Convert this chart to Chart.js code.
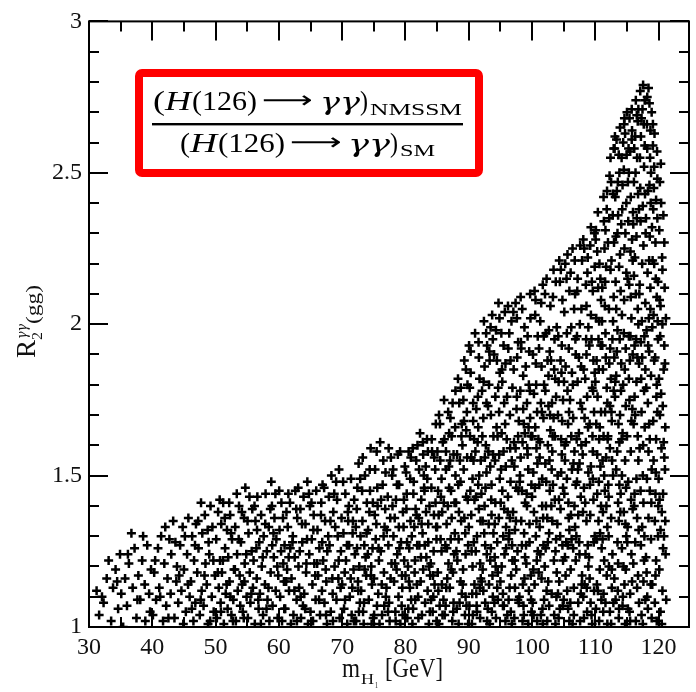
<!DOCTYPE html>
<html><head><meta charset="utf-8">
<style>html,body{margin:0;padding:0;background:#fff}#wrap{width:696px;height:692px}</style>
<script src="https://cdn.jsdelivr.net/npm/chart.js@4.4.1/dist/chart.umd.min.js"></script>
</head><body><div id="wrap"><canvas id="c" width="696" height="692"></canvas></div>
<script>
// tick values
const xTicks=[30,40,50,60,70,80,90,100,110,120];
const xMinorTicks=[35,45,55,65,75,85,95,105,115];
const yTicks=[1,1.5,2,2.5,3];
const yMinorTicks=[1.1,1.2,1.3,1.4,1.6,1.7,1.8,1.9,2.1,2.2,2.3,2.4,2.6,2.7,2.8,2.9];

// scan points: flat [mH1, R, mH1, R, ...]
const band30=[31.2,1.12,31.6,1.04,32.3,1.08,32.8,1.16,33.1,1.22,33.5,1.02,33.8,1.13,34.2,1.19,34.6,1.06,34.9,1.24,
35.1,1.11,35.4,1.00,35.7,1.16,36.0,1.07,36.3,1.21,36.7,1.31,36.9,1.13,37.2,1.26,37.5,1.03,37.8,1.17,
38.1,1.09,38.4,1.22,38.8,1.14,38.9,1.02,39.2,1.27,39.5,1.11,39.8,1.19,
32.05,1.10,34.45,1.15,36.15,1.24,37.65,1.09,38.55,1.30,39.65,1.05];
const band40=[40.1,1.04,40.3,1.18,40.6,1.09,40.9,1.26,41.1,1.13,41.4,1.30,41.7,1.02,41.9,1.21,
42.2,1.07,42.4,1.16,42.7,1.29,42.9,1.11,43.0,1.24,43.3,1.35,43.5,1.03,43.8,1.15,43.9,1.20,
44.1,1.08,44.4,1.27,44.6,1.12,44.8,1.33,44.9,1.01,45.0,1.19,45.3,1.05,45.5,1.24,45.7,1.36,45.9,1.10,
46.1,1.15,46.3,1.30,46.5,1.02,46.6,1.22,46.8,1.08,46.9,1.34,47.1,1.18,47.3,1.26,47.5,1.04,47.7,1.41,47.8,1.12,47.9,1.31,
48.1,1.07,48.3,1.37,48.4,1.21,48.6,1.14,48.8,1.01,48.9,1.28,49.0,1.24,49.2,1.40,49.4,1.10,49.5,1.33,49.7,1.05,49.9,1.17,
40.45,1.22,41.25,1.10,42.05,1.33,42.55,1.03,43.65,1.28,44.25,1.17,45.15,1.30,45.65,1.14,46.25,1.06,46.75,1.27,
47.25,1.35,47.65,1.09,48.25,1.17,48.75,1.32,49.15,1.02,49.65,1.22];
const band50=[50.1,1.29,50.2,1.03,50.4,1.38,50.5,1.13,50.7,1.22,50.8,1.08,50.9,1.34,
51.0,1.18,51.2,1.41,51.3,1.01,51.5,1.26,51.6,1.11,51.8,1.32,51.9,1.06,
52.0,1.23,52.2,1.15,52.3,1.37,52.5,1.04,52.6,1.29,52.8,1.09,52.9,1.19,
53.1,1.33,53.2,1.02,53.4,1.24,53.5,1.12,53.7,1.40,53.8,1.17,53.9,1.07,
54.0,1.28,54.2,1.14,54.3,1.05,54.5,1.36,54.6,1.21,54.7,1.46,54.9,1.10,
55.1,1.03,55.2,1.31,55.4,1.18,55.5,1.08,55.7,1.25,55.8,1.39,55.9,1.13,
56.0,1.22,56.2,1.01,56.3,1.35,56.5,1.16,56.6,1.43,56.8,1.06,56.9,1.28,
57.0,1.11,57.2,1.37,57.3,1.20,57.5,1.04,57.6,1.30,57.8,1.14,57.9,1.44,
58.1,1.25,58.2,1.09,58.4,1.33,58.5,1.02,58.7,1.18,58.8,1.48,58.9,1.40,
59.0,1.07,59.2,1.23,59.3,1.36,59.5,1.12,59.6,1.29,59.8,1.03,59.9,1.17,
50.35,1.18,50.65,1.42,50.85,1.05,51.45,1.36,51.15,1.22,51.75,1.14,52.45,1.31,52.75,1.02,52.15,1.41,52.35,1.10,
53.05,1.19,53.65,1.29,53.35,1.44,54.45,1.03,54.15,1.38,54.85,1.24,54.55,1.15,55.35,1.43,55.65,1.11,55.05,1.35,
56.45,1.26,56.75,1.09,56.15,1.40,56.55,1.32,57.45,1.23,57.15,1.01,57.85,1.34,58.35,1.13,58.65,1.39,58.05,1.06,58.95,1.27,
59.45,1.44,59.15,1.31,59.75,1.20];
const band60=[60.1,1.32,60.2,1.10,60.4,1.41,60.5,1.02,60.7,1.21,60.8,1.15,60.9,1.27,
61.0,1.06,61.2,1.38,61.3,1.19,61.5,1.44,61.6,1.12,61.8,1.26,61.9,1.01,61.4,1.33,
62.0,1.16,62.2,1.30,62.3,1.04,62.5,1.23,62.6,1.45,62.8,1.09,62.9,1.36,
63.1,1.20,63.2,1.13,63.4,1.39,63.5,1.03,63.7,1.28,63.8,1.07,63.9,1.43,63.3,1.25,
64.0,1.11,64.2,1.34,64.3,1.18,64.5,1.48,64.6,1.01,64.8,1.24,64.9,1.40,
65.0,1.05,65.2,1.29,65.3,1.14,65.5,1.37,65.6,1.21,65.8,1.09,65.9,1.45,65.4,1.02,
66.1,1.32,66.2,1.17,66.4,1.26,66.5,1.04,66.7,1.41,66.8,1.12,66.9,1.47,
67.0,1.22,67.2,1.08,67.3,1.35,67.5,1.15,67.6,1.01,67.8,1.30,67.9,1.43,67.4,1.19,
68.0,1.27,68.2,1.05,68.3,1.50,68.5,1.11,68.6,1.38,68.8,1.20,68.9,1.33,
69.1,1.09,69.2,1.42,69.4,1.16,69.5,1.52,69.6,1.03,69.8,1.25,69.9,1.36,69.3,1.30,
60.35,1.25,60.65,1.36,60.05,1.45,60.85,1.06,61.75,1.41,61.15,1.15,61.55,1.23,62.45,1.12,62.75,1.39,62.15,1.28,62.85,1.02,
63.65,1.34,63.05,1.46,63.45,1.10,64.45,1.29,64.15,1.06,64.75,1.44,64.35,1.21,65.15,1.41,65.75,1.17,65.45,1.32,
66.35,1.09,66.65,1.37,66.05,1.21,66.85,1.28,67.15,1.46,67.65,1.25,67.45,1.04,68.45,1.16,68.75,1.44,68.15,1.35,68.55,1.02,
69.05,1.48,69.75,1.13,69.45,1.22];
const band70=[70.0,1.14,70.2,1.31,70.3,1.06,70.5,1.44,70.6,1.22,70.8,1.01,70.9,1.38,70.4,1.18,
71.1,1.27,71.2,1.10,71.4,1.49,71.5,1.04,71.7,1.35,71.8,1.19,71.9,1.42,71.6,1.13,
72.0,1.24,72.2,1.02,72.3,1.39,72.5,1.15,72.6,1.54,72.8,1.08,72.9,1.30,72.4,1.46,72.7,1.20,
73.0,1.12,73.2,1.35,73.3,1.05,73.5,1.27,73.6,1.50,73.8,1.17,73.9,1.41,73.4,1.01,73.7,1.23,
74.1,1.32,74.2,1.09,74.4,1.45,74.5,1.59,74.7,1.14,74.8,1.26,74.9,1.03,74.3,1.38,74.6,1.20,
75.0,1.16,75.2,1.52,75.3,1.29,75.5,1.07,75.6,1.40,75.8,1.22,75.9,1.01,75.4,1.34,75.7,1.11,
76.0,1.61,76.1,1.25,76.3,1.04,76.4,1.47,76.6,1.18,76.7,1.33,76.9,1.10,76.5,1.55,76.8,1.39,
77.0,1.13,77.2,1.43,77.3,1.27,77.5,1.02,77.6,1.36,77.8,1.21,77.9,1.50,77.4,1.08,77.7,1.56,
78.1,1.30,78.2,1.15,78.4,1.05,78.5,1.42,78.7,1.24,78.8,1.57,78.9,1.10,78.3,1.36,78.6,1.19,
79.0,1.47,79.2,1.01,79.3,1.28,79.5,1.13,79.6,1.38,79.8,1.22,79.9,1.53,79.4,1.07,79.7,1.33,
70.15,1.48,70.75,1.27,70.45,1.09,70.95,1.35,71.35,1.16,71.05,1.40,71.65,1.31,71.85,1.02,
72.15,1.33,72.55,1.12,72.85,1.49,72.35,1.26,72.65,1.05,73.15,1.45,73.55,1.19,73.85,1.31,73.25,1.56,73.45,1.08,
74.05,1.24,74.35,1.52,74.65,1.01,74.85,1.41,74.55,1.17,75.15,1.37,75.45,1.58,75.75,1.26,75.05,1.04,75.55,1.46,
76.25,1.14,76.55,1.30,76.85,1.51,76.15,1.42,76.65,1.07,77.05,1.32,77.35,1.59,77.65,1.16,77.95,1.40,77.25,1.05,
78.05,1.52,78.35,1.21,78.65,1.47,78.95,1.33,78.45,1.02,79.15,1.58,79.45,1.17,79.75,1.42,79.05,1.26,79.55,1.04];
const band80=[80.0,1.17,80.2,1.44,80.3,1.03,80.5,1.58,80.6,1.26,80.8,1.35,80.9,1.09,80.1,1.51,80.4,1.20,80.7,1.13,
81.0,1.30,81.2,1.06,81.3,1.48,81.5,1.22,81.6,1.39,81.8,1.14,81.9,1.60,81.1,1.01,81.4,1.33,81.7,1.55,
82.0,1.10,82.2,1.27,82.3,1.64,82.5,1.42,82.6,1.04,82.8,1.19,82.9,1.50,82.1,1.36,82.4,1.15,82.7,1.31,82.8,1.57,
83.0,1.45,83.1,1.08,83.3,1.23,83.4,1.62,83.6,1.34,83.7,1.01,83.9,1.17,83.2,1.53,83.5,1.12,83.8,1.40,83.6,1.28,
84.0,1.21,84.2,1.58,84.3,1.05,84.5,1.37,84.6,1.14,84.8,1.67,84.9,1.29,84.1,1.46,84.4,1.10,84.7,1.52,84.9,1.02,
85.0,1.33,85.1,1.18,85.3,1.70,85.4,1.07,85.6,1.43,85.7,1.25,85.9,1.61,85.2,1.12,85.5,1.55,85.8,1.38,85.3,1.01,85.7,1.49,
86.0,1.09,86.1,1.75,86.3,1.27,86.4,1.52,86.6,1.16,86.7,1.40,86.9,1.64,86.2,1.04,86.5,1.34,86.8,1.21,86.4,1.58,86.9,1.46,
87.0,1.13,87.1,1.69,87.3,1.36,87.4,1.02,87.6,1.57,87.7,1.24,87.9,1.78,87.2,1.45,87.5,1.18,87.8,1.31,87.3,1.63,87.6,1.08,87.9,1.50,
88.0,1.41,88.1,1.06,88.3,1.82,88.4,1.29,88.6,1.55,88.7,1.15,88.9,1.67,88.2,1.22,88.5,1.74,88.8,1.35,88.4,1.01,88.7,1.48,88.9,1.11,
89.0,1.60,89.1,1.19,89.3,1.88,89.4,1.04,89.6,1.43,89.7,1.71,89.9,1.27,89.2,1.52,89.5,1.10,89.8,1.80,89.3,1.36,89.6,1.65,89.9,1.01,89.5,1.24,
80.15,1.39,80.45,1.06,80.75,1.49,80.25,1.28,80.85,1.56,80.55,1.15,81.25,1.44,81.55,1.09,81.85,1.27,81.15,1.59,81.45,1.18,81.75,1.37,
82.15,1.52,82.45,1.23,82.75,1.61,82.05,1.03,82.55,1.34,82.95,1.46,83.25,1.38,83.55,1.58,83.85,1.05,83.05,1.27,83.45,1.49,83.75,1.20,
84.15,1.62,84.45,1.25,84.75,1.41,84.05,1.09,84.55,1.56,84.85,1.33,84.35,1.17,85.15,1.45,85.45,1.67,85.75,1.14,85.05,1.58,85.55,1.29,85.85,1.04,85.25,1.37,
86.15,1.62,86.45,1.13,86.75,1.71,86.05,1.41,86.55,1.26,86.85,1.53,86.35,1.07,87.15,1.29,87.45,1.74,87.75,1.41,87.05,1.55,87.55,1.05,87.85,1.66,87.25,1.19,
88.15,1.57,88.45,1.38,88.75,1.79,88.05,1.25,88.55,1.08,88.85,1.63,88.35,1.47,89.15,1.75,89.45,1.31,89.75,1.56,89.05,1.14,89.55,1.85,89.85,1.42,89.25,1.68,89.65,1.07];
const band90=[90.0,1.33,90.1,1.07,90.3,1.91,90.4,1.56,90.6,1.20,90.7,1.74,90.9,1.42,90.2,1.63,90.5,1.01,90.8,1.28,90.3,1.84,90.6,1.49,90.9,1.14,90.4,1.37,90.7,1.68,
91.0,1.97,91.1,1.25,91.3,1.05,91.4,1.61,91.6,1.39,91.7,1.82,91.9,1.16,91.2,1.72,91.5,1.47,91.8,1.03,91.3,1.30,91.6,1.89,91.9,1.55,91.2,1.11,91.5,1.66,91.8,1.21,
92.0,1.44,92.1,1.78,92.3,1.12,92.4,2.01,92.6,1.27,92.7,1.60,92.9,1.02,92.2,1.35,92.5,1.86,92.8,1.51,92.3,1.69,92.6,1.08,92.9,1.93,92.2,1.19,92.5,1.40,92.8,1.74,
93.0,1.06,93.1,1.58,93.3,1.88,93.4,1.22,93.6,1.47,93.7,2.03,93.9,1.31,93.2,1.14,93.5,1.70,93.8,1.95,93.3,1.01,93.6,1.37,93.9,1.63,93.2,1.80,93.5,1.26,93.8,1.10,93.4,1.53,
94.0,1.90,94.1,1.34,94.3,1.03,94.4,1.66,94.6,1.18,94.7,2.07,94.9,1.49,94.2,1.76,94.5,1.28,94.8,1.57,94.3,1.98,94.6,1.09,94.9,1.84,94.2,1.41,94.5,1.13,94.8,1.71,94.1,1.23,
95.0,1.15,95.1,1.52,95.3,1.81,95.4,1.07,95.6,1.39,95.7,2.04,95.9,1.26,95.2,1.64,95.5,1.93,95.8,1.02,95.3,1.45,95.6,1.74,95.9,1.33,95.2,1.20,95.5,1.58,95.8,1.87,95.4,1.11,
96.0,1.62,96.1,1.04,96.3,1.29,96.4,1.97,96.6,1.48,96.7,1.17,96.9,1.79,96.2,2.06,96.5,1.36,96.8,1.55,96.3,1.09,96.6,1.88,96.9,1.22,96.2,1.43,96.5,1.70,96.8,1.01,96.4,1.31,
97.0,1.38,97.1,1.85,97.3,1.13,97.4,1.59,97.6,2.02,97.7,1.25,97.9,1.68,97.2,1.03,97.5,1.46,97.8,1.94,97.3,1.32,97.6,1.76,97.9,1.08,97.2,1.53,97.5,1.19,97.8,1.63,97.4,2.07,
98.0,1.10,98.1,1.50,98.3,1.92,98.4,1.27,98.6,1.72,98.7,1.04,98.9,1.41,98.2,2.09,98.5,1.61,98.8,1.16,98.3,1.35,98.6,1.83,98.9,1.23,98.2,1.56,98.5,1.02,98.8,1.99,98.4,1.45,98.7,1.67,
99.0,1.86,99.1,1.21,99.3,1.57,99.4,1.01,99.6,1.34,99.7,2.10,99.9,1.47,99.2,1.74,99.5,1.12,99.8,1.63,99.3,1.96,99.6,1.28,99.9,1.05,99.2,1.40,99.5,1.80,99.8,1.17,99.4,1.52,99.7,1.69,
90.15,1.79,90.45,1.25,90.75,1.55,90.05,1.93,90.55,1.11,90.85,1.62,90.25,1.45,90.65,1.04,
91.15,1.43,91.45,1.76,91.75,1.13,91.05,1.58,91.55,1.94,91.85,1.35,91.25,1.07,91.65,1.50,
92.15,1.63,92.45,1.31,92.75,1.97,92.05,1.15,92.55,1.56,92.85,1.24,92.35,1.81,92.65,1.46,
93.15,1.34,93.45,1.99,93.75,1.17,93.05,1.73,93.55,1.42,93.85,1.57,93.25,1.91,93.65,1.05,
94.15,1.55,94.45,1.88,94.75,1.36,94.05,1.08,94.55,1.63,94.85,2.02,94.25,1.20,94.65,1.79,
95.15,1.97,95.45,1.30,95.75,1.67,95.05,1.41,95.55,1.07,95.85,1.53,95.25,1.85,95.65,1.24,
96.15,1.38,96.45,1.13,96.75,2.01,96.05,1.76,96.55,1.59,96.85,1.27,96.25,1.92,96.65,1.05,
97.15,1.61,97.45,1.35,97.75,1.09,97.05,2.04,97.55,1.72,97.85,1.45,97.25,1.22,97.65,1.89,
98.15,1.78,98.45,2.05,98.75,1.31,98.05,1.48,98.55,1.14,98.85,1.64,98.25,1.94,98.65,1.07,
99.15,1.44,99.45,1.66,99.75,2.02,99.05,1.27,99.55,1.91,99.85,1.09,99.25,1.59,99.65,1.78];
const band100=[100.0,1.43,100.1,1.08,100.3,1.77,100.4,2.11,100.6,1.30,100.7,1.59,100.9,1.96,100.2,1.19,100.5,1.66,100.8,1.02,100.3,1.38,100.6,1.87,100.9,1.25,100.2,1.51,100.5,2.03,100.8,1.71,100.4,1.14,100.7,1.35,
101.0,1.62,101.1,1.92,101.3,1.24,101.4,1.04,101.6,1.49,101.7,2.13,101.9,1.80,101.2,1.33,101.5,1.16,101.8,1.69,101.3,2.01,101.6,1.40,101.9,1.09,101.2,1.56,101.5,1.86,101.8,1.27,101.4,1.74,101.7,1.01,
102.0,1.20,102.1,1.54,102.3,2.15,102.4,1.36,102.6,1.83,102.7,1.07,102.9,1.65,102.2,1.97,102.5,1.28,102.8,1.45,102.3,1.12,102.6,1.73,102.9,2.06,102.2,1.40,102.5,1.60,102.8,1.91,102.4,1.02,102.7,1.31,102.1,1.78,
103.0,1.88,103.1,1.11,103.3,1.47,103.4,2.18,103.6,1.63,103.7,1.25,103.9,1.99,103.2,1.35,103.5,1.04,103.8,1.76,103.3,2.09,103.6,1.42,103.9,1.18,103.2,1.58,103.5,1.85,103.8,1.29,103.4,1.69,103.7,1.01,103.1,1.52,
104.0,1.34,104.1,1.70,104.3,2.21,104.4,1.06,104.6,1.51,104.7,1.93,104.9,1.22,104.2,1.81,104.5,1.39,104.8,2.08,104.3,1.15,104.6,1.62,104.9,1.46,104.2,1.03,104.5,1.88,104.8,1.27,104.4,2.14,104.7,1.57,104.1,1.11,104.9,1.75,
105.0,1.09,105.1,1.44,105.3,1.86,105.4,1.28,105.6,2.23,105.7,1.67,105.9,1.02,105.2,1.55,105.5,1.97,105.8,1.36,105.3,1.17,105.6,1.78,105.9,2.11,105.2,1.23,105.5,1.49,105.8,1.92,105.4,1.61,105.7,1.06,105.1,2.04,105.9,1.32,
106.0,1.75,106.1,1.19,106.3,1.52,106.4,2.25,106.6,1.04,106.7,1.40,106.9,1.90,106.2,1.63,106.5,1.26,106.8,2.10,106.3,1.84,106.6,1.13,106.9,1.47,106.2,1.99,106.5,1.69,106.8,1.33,106.4,1.01,106.7,1.58,106.1,2.17,106.9,1.22,
107.0,1.30,107.1,1.96,107.3,1.08,107.4,1.64,107.6,2.26,107.7,1.43,107.9,1.17,107.2,1.81,107.5,1.54,107.8,2.05,107.3,1.37,107.6,1.02,107.9,1.72,107.2,2.15,107.5,1.24,107.8,1.60,107.4,1.89,107.7,1.11,107.1,1.48,107.9,2.21,
108.0,1.57,108.1,2.28,108.3,1.14,108.4,1.82,108.6,1.35,108.7,1.05,108.9,1.99,108.2,1.46,108.5,2.13,108.8,1.27,108.3,1.69,108.6,1.90,108.9,1.20,108.2,1.03,108.5,1.61,108.8,2.22,108.4,1.41,108.7,1.76,108.1,1.10,108.6,2.06,108.9,1.51,
109.0,1.23,109.1,1.67,109.3,2.32,109.4,1.04,109.6,1.49,109.7,1.88,109.9,2.19,109.2,1.37,109.5,1.79,109.8,1.12,109.3,2.03,109.6,1.58,109.9,1.30,109.2,2.26,109.5,1.01,109.8,1.71,109.4,1.95,109.7,1.42,109.1,1.16,109.6,2.11,109.9,1.84,109.3,1.53,
100.15,1.90,100.45,1.46,100.75,1.22,100.05,1.63,100.55,2.08,100.85,1.54,100.25,1.04,100.65,1.80,
101.15,1.47,101.45,2.07,101.75,1.36,101.05,1.18,101.55,1.71,101.85,1.96,101.25,1.61,101.65,1.06,
102.15,1.26,102.45,1.88,102.75,1.55,102.05,2.10,102.55,1.15,102.85,1.70,102.25,1.48,102.65,1.98,
103.15,1.74,103.45,1.22,103.75,2.14,103.05,1.40,103.55,1.95,103.85,1.10,103.25,1.63,103.65,1.82,
104.15,1.96,104.45,1.30,104.75,1.68,104.05,1.50,104.55,2.18,104.85,1.07,104.25,1.42,104.65,1.84,
105.15,1.60,105.45,2.15,105.75,1.41,105.05,1.81,105.55,1.12,105.85,1.71,105.25,2.20,105.65,1.27,
106.15,1.37,106.45,1.80,106.75,2.21,106.05,1.08,106.55,1.54,106.85,1.95,106.25,1.29,106.65,2.05,
107.15,2.11,107.45,1.28,107.75,1.86,107.05,1.62,107.55,2.00,107.85,1.14,107.25,1.52,107.65,1.74,
108.15,1.85,108.45,1.24,108.75,2.17,108.05,1.38,108.55,1.95,108.85,1.66,108.25,2.25,108.65,1.13,
109.15,1.47,109.45,2.14,109.75,1.28,109.05,1.93,109.55,1.63,109.85,2.30,109.25,1.08,109.65,1.78];
const band110=[110.0,1.81,110.1,1.06,110.3,1.44,110.4,2.37,110.6,1.62,110.7,1.19,110.9,2.08,110.2,1.29,110.5,1.95,110.8,1.53,110.3,2.24,110.6,1.02,110.9,1.71,110.2,1.88,110.5,1.35,110.8,2.15,110.4,1.12,110.7,1.66,110.1,2.31,110.9,1.40,110.6,2.01,110.3,1.57,
111.0,1.26,111.1,1.93,111.3,2.42,111.4,1.50,111.6,1.08,111.7,2.19,111.9,1.74,111.2,1.38,111.5,2.06,111.8,1.17,111.3,1.63,111.6,2.31,111.9,1.01,111.2,1.85,111.5,1.45,111.8,2.38,111.4,1.22,111.7,1.56,111.1,2.12,111.9,1.33,111.6,1.97,111.3,1.11,111.8,1.79,
112.0,2.27,112.1,1.43,112.3,1.05,112.4,2.55,112.6,1.68,112.7,1.24,112.9,2.09,112.2,1.87,112.5,1.36,112.8,2.43,112.3,1.59,112.6,1.13,112.9,1.78,112.2,2.35,112.5,1.01,112.8,1.50,112.4,2.18,112.7,1.95,112.1,1.30,112.9,2.58,112.6,1.19,112.3,1.73,112.8,2.01,112.5,2.47,112.0,1.63,
113.0,1.16,113.1,2.62,113.3,1.52,113.4,1.91,113.6,2.36,113.7,1.03,113.9,1.70,113.2,2.14,113.5,1.28,113.8,2.50,113.3,1.83,113.6,1.41,113.9,2.23,113.2,1.09,113.5,1.98,113.8,1.61,113.4,2.44,113.7,1.35,113.1,1.76,113.9,2.65,113.6,1.21,113.3,2.05,113.8,1.47,113.5,2.30,113.0,1.89,113.7,2.56,
114.0,1.44,114.1,2.33,114.3,1.07,114.4,1.80,114.6,2.68,114.7,1.55,114.9,2.17,114.2,1.26,114.5,2.51,114.8,1.92,114.3,1.64,114.6,1.14,114.9,2.40,114.2,2.03,114.5,1.38,114.8,1.73,114.4,2.60,114.7,1.01,114.1,1.87,114.9,1.30,114.6,2.25,114.3,2.46,114.8,1.19,114.5,1.97,114.0,2.11,114.7,2.63,114.2,1.50,
115.0,2.70,115.1,1.33,115.3,1.96,115.4,1.05,115.6,2.42,115.7,1.68,115.9,2.21,115.2,1.48,115.5,2.57,115.8,1.15,115.3,1.82,115.6,2.09,115.9,1.39,115.2,2.34,115.5,1.02,115.8,2.64,115.4,1.75,115.7,1.24,115.1,2.15,115.9,1.90,115.6,1.58,115.3,2.50,115.8,2.28,115.5,1.11,115.0,1.63,115.7,2.02,115.4,2.68,
116.0,1.21,116.1,2.47,116.3,1.70,116.4,2.74,116.6,1.36,116.7,2.05,116.9,1.08,116.2,1.93,116.5,2.29,116.8,1.55,116.3,2.62,116.6,1.13,116.9,2.38,116.2,1.44,116.5,1.81,116.8,2.71,116.4,1.02,116.7,1.63,116.1,2.16,116.9,1.87,116.6,2.55,116.3,1.28,116.8,2.00,116.5,1.49,116.0,2.33,116.7,2.67,116.2,1.76,116.4,2.10,
117.0,1.59,117.1,2.77,117.3,1.04,117.4,2.20,117.6,1.41,117.7,2.52,117.9,1.85,117.2,1.27,117.5,2.39,117.8,1.66,117.3,2.68,117.6,1.15,117.9,2.07,117.2,1.94,117.5,1.50,117.8,2.74,117.4,1.33,117.7,1.78,117.1,2.45,117.9,1.09,117.6,2.26,117.3,1.71,117.8,2.59,117.5,1.01,117.0,2.13,117.7,1.22,117.2,2.62,117.4,1.89,
118.0,2.35,118.1,1.18,118.3,1.74,118.4,2.78,118.6,1.45,118.7,2.12,118.9,1.03,118.2,2.58,118.5,1.91,118.8,1.29,118.3,2.44,118.6,1.62,118.9,2.70,118.2,1.10,118.5,2.21,118.8,1.83,118.4,1.36,118.7,2.64,118.1,1.98,118.9,1.52,118.6,2.29,118.3,1.06,118.8,2.50,118.5,1.67,118.0,1.23,118.7,2.05,118.2,2.75,118.4,1.58,
119.0,1.14,119.1,2.66,119.3,1.88,119.4,1.35,119.6,2.41,119.7,1.02,119.9,2.14,119.2,1.55,119.5,2.27,119.8,1.71,119.3,2.52,119.6,1.22,119.9,1.95,119.2,2.03,119.5,1.44,119.8,2.35,119.4,1.08,119.7,1.80,119.1,2.59,119.9,1.30,119.6,1.62,119.3,2.20,119.8,2.48,119.5,1.17,119.0,1.99,119.7,2.09,
120.0,1.49,120.1,2.31,120.3,1.05,120.4,1.77,120.6,2.18,120.7,1.26,120.9,1.93,120.2,2.47,120.5,1.38,120.8,1.61,120.3,2.06,120.6,1.12,120.9,2.27,120.2,1.70,120.5,1.01,120.8,1.85,120.4,2.40,120.7,1.44,120.1,1.19,120.9,1.56,120.6,2.00,120.3,1.32,
121.0,1.87,121.1,1.24,121.0,1.52,121.2,1.09,
110.15,1.67,110.45,2.12,110.75,1.31,110.05,2.28,110.55,1.48,110.85,1.93,110.25,1.14,110.65,2.20,110.35,1.76,110.95,1.09,110.15,2.02,110.55,1.85,
111.15,1.55,111.45,2.25,111.75,1.40,111.05,2.01,111.55,1.71,111.85,2.44,111.25,1.05,111.65,1.89,111.35,2.34,111.95,1.62,111.15,1.29,111.55,2.14,
112.15,2.05,112.45,1.82,112.75,2.36,112.05,1.47,112.55,2.21,112.85,1.08,112.25,2.49,112.65,1.55,112.35,1.92,112.95,2.27,112.15,1.20,112.55,1.71,
113.15,2.42,113.45,1.58,113.75,2.19,113.05,2.58,113.55,1.12,113.85,1.95,113.25,2.29,113.65,1.67,113.35,2.61,113.95,1.38,113.15,1.81,113.55,2.47,113.75,1.06,
114.15,2.55,114.45,1.20,114.75,2.30,114.05,1.78,114.55,2.66,114.85,1.46,114.25,2.38,114.65,1.85,114.35,1.10,114.95,2.56,114.15,1.62,114.55,2.08,114.75,1.34,
115.15,2.47,115.45,1.88,115.75,2.61,115.05,1.28,115.55,2.24,115.85,1.72,115.25,2.58,115.65,1.42,115.35,2.13,115.95,2.37,115.15,1.06,115.55,1.96,115.75,2.71,
116.15,2.58,116.45,1.95,116.75,2.43,116.05,1.67,116.55,2.69,116.85,1.32,116.25,2.22,116.65,1.89,116.35,2.50,116.95,2.10,116.15,1.40,116.55,2.35,116.75,1.17,
117.15,2.34,117.45,2.71,117.75,1.96,117.05,2.55,117.55,1.60,117.85,2.43,117.25,1.82,117.65,2.66,117.35,2.01,117.95,2.30,117.15,1.45,117.55,2.79,117.75,1.30,
118.15,2.66,118.45,2.02,118.75,2.40,118.05,1.79,118.55,2.73,118.85,1.41,118.25,2.17,118.65,2.55,118.35,1.93,118.95,2.32,118.15,1.49,118.55,2.46,118.75,1.14,
119.15,2.38,119.45,1.89,119.75,2.57,119.05,2.21,119.55,1.51,119.85,2.01,119.25,2.45,119.65,1.76,119.35,2.63,119.95,1.40,119.15,1.68,119.55,2.15,
120.15,2.08,120.45,1.59,120.75,2.36,120.05,1.82,120.55,2.22,120.85,1.30,120.25,1.96,120.65,1.73,120.35,2.53,120.95,2.12,120.15,1.42,
121.05,1.66,121.15,2.02,121.05,1.35];

const SERIF="'Liberation Serif','Times New Roman','DejaVu Serif',serif";
const GREEK="'DejaVu Serif',serif";
function toPts(a){const o=[];for(let i=0;i<a.length;i+=2)o.push({x:a[i],y:a[i+1]});return o;}
const points=[band30,band40,band50,band60,band70,band80,band90,band100,band110].flatMap(toPts);

function fitText(ctx,text,font,x0,x1,base){
  ctx.font=font;
  const w=ctx.measureText(text).width;
  const sx=(x1-x0)/w;
  ctx.save();ctx.translate(x0,base);ctx.scale(sx,1);
  ctx.textAlign='left';ctx.textBaseline='alphabetic';
  ctx.fillText(text,0,0);ctx.restore();
}

const decor={
  id:'decor',
  afterDatasetsDraw(chart){
    const {ctx,chartArea:a,scales:{x,y}}=chart;
    ctx.save();
    ctx.strokeStyle='#000';ctx.lineWidth=2;
    ctx.strokeRect(a.left,a.top,a.right-a.left,a.bottom-a.top);
    ctx.beginPath();
    const tx=(v,L)=>{const p=Math.round(x.getPixelForValue(v));ctx.moveTo(p,a.bottom);ctx.lineTo(p,a.bottom-L);ctx.moveTo(p,a.top);ctx.lineTo(p,a.top+L);};
    const ty=(v,L)=>{const p=Math.round(y.getPixelForValue(v));ctx.moveTo(a.left,p);ctx.lineTo(a.left+L,p);ctx.moveTo(a.right,p);ctx.lineTo(a.right-L,p);};
    xTicks.forEach(v=>tx(v,19));xMinorTicks.forEach(v=>tx(v,10));
    yTicks.forEach(v=>ty(v,19));yMinorTicks.forEach(v=>ty(v,10));
    ctx.stroke();
    // red formula box
    ctx.fillStyle='#fff';
    ctx.beginPath();ctx.roundRect(139,73,340,100,3);ctx.fill();
    ctx.strokeStyle='#ff0000';ctx.lineWidth=8;ctx.stroke();
    ctx.fillStyle='#000';
    const F='27px '+SERIF, FI='italic 27px '+SERIF, FG='italic 24px '+GREEK, FA='24px "DejaVu Sans",sans-serif', FS='16px '+SERIF;
    // numerator
    fitText(ctx,'(',F,153,165,110);
    fitText(ctx,'H',FI,165,191,110);
    fitText(ctx,'(126)',F,192,257,110);
    fitText(ctx,'\u27F6',FA,262,313,108);
    fitText(ctx,'\u03B3\u03B3',FG,320,360,110);
    fitText(ctx,')',F,360,368,110);
    fitText(ctx,'NMSSM',FS,370,462,115);
    // fraction bar
    ctx.fillRect(152,123,311,2.4);
    // denominator
    fitText(ctx,'(',F,180,190,152);
    fitText(ctx,'H',FI,190,217,152);
    fitText(ctx,'(126)',F,218,285,152);
    fitText(ctx,'\u27F6',FA,290,342,150);
    fitText(ctx,'\u03B3\u03B3',FG,348,390,152);
    fitText(ctx,')',F,390,398,152);
    fitText(ctx,'SM',FS,400,435,156);
    ctx.restore();
  },
  afterDraw(chart){
    const ctx=chart.ctx;
    ctx.save();ctx.fillStyle='#111';
    // x title
    fitText(ctx,'m','27px '+SERIF,342,360,677);
    fitText(ctx,'H','15px '+SERIF,361,374,684);
    fitText(ctx,'1','9px '+SERIF,375,378,688);
    fitText(ctx,'[GeV]','27px '+SERIF,385,443,677);
    // y title (rotated)
    ctx.save();ctx.translate(35,358);ctx.rotate(-Math.PI/2);
    fitText(ctx,'R','28px '+SERIF,0,18,0);
    fitText(ctx,'2','15px '+SERIF,18,26,7);
    fitText(ctx,'\u03B3\u03B3','italic 14px '+GREEK,19,34,-8);
    fitText(ctx,'(gg)','18px '+SERIF,34,73,4);
    ctx.restore();
    ctx.restore();
  }
};

new Chart(document.getElementById('c'),{
  type:'scatter',
  data:{datasets:[{data:points,pointStyle:'cross',radius:4.5,hoverRadius:4.5,borderWidth:2.5,borderColor:'#000',backgroundColor:'#000',clip:0}]},
  options:{
    responsive:false,animation:false,devicePixelRatio:1,
    layout:{padding:{top:18,right:1,left:0,bottom:0}},
    plugins:{legend:{display:false},tooltip:{enabled:false}},
    scales:{
      x:{type:'linear',min:30,max:124.8,
        afterBuildTicks:s=>{s.ticks=xTicks.map(v=>({value:v}));},
        afterFit:s=>{s.height=65;},
        grid:{display:false,drawTicks:false},border:{display:false},
        ticks:{font:{family:SERIF,size:24},color:'#111',padding:6,maxRotation:0,autoSkip:false,callback:v=>String(v)}},
      y:{type:'linear',min:1,max:3,
        afterBuildTicks:s=>{s.ticks=yTicks.map(v=>({value:v}));},
        afterFit:s=>{s.width=89;},
        grid:{display:false,drawTicks:false},border:{display:false},
        ticks:{font:{family:SERIF,size:24},color:'#111',padding:7,autoSkip:false,callback:v=>String(v)}}
    }
  },
  plugins:[decor]
});
</script></body></html>
